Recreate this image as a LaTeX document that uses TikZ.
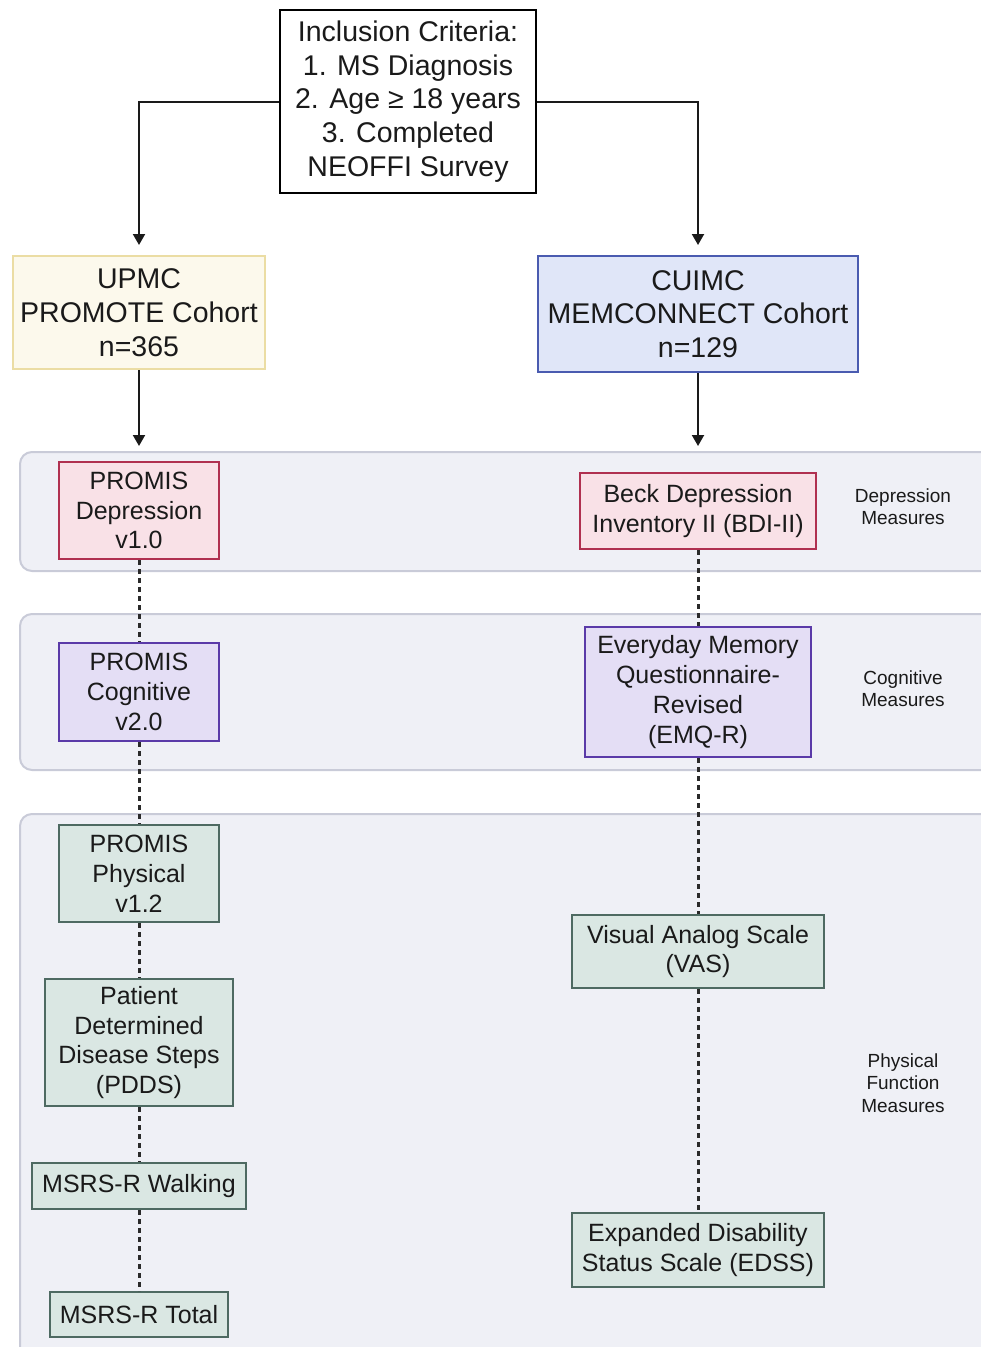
\documentclass[tikz,border=0pt]{standalone}
\usepackage{fontspec}
\setmainfont{Liberation Sans}
\usetikzlibrary{arrows.meta,positioning}
\definecolor{txt}{HTML}{1A1A1A}
\definecolor{creamfill}{HTML}{FCF9EC}
\definecolor{creamdraw}{HTML}{EBDDA4}
\definecolor{bluefill}{HTML}{E0E6F8}
\definecolor{bluedraw}{HTML}{4A5BB0}
\definecolor{panelfill}{HTML}{EFF0F6}
\definecolor{paneldraw}{HTML}{C9CBD8}
\definecolor{pinkfill}{HTML}{F9E1E7}
\definecolor{pinkdraw}{HTML}{B03050}
\definecolor{lavfill}{HTML}{E4DEF5}
\definecolor{lavdraw}{HTML}{5A3AA8}
\definecolor{greenfill}{HTML}{DAE7E3}
\definecolor{greendraw}{HTML}{4E6A62}
\definecolor{dotcol}{HTML}{2A2A2A}
\tikzset{
  bigbox/.style={draw, line width=2pt, inner sep=0pt, align=center, text=txt,
     font=\fontsize{28.5}{33.7}\selectfont},
  measbox/.style={draw, line width=2pt, inner sep=0pt, align=center, text=txt,
     font=\fontsize{25}{29.8}\selectfont},
  sidelabel/.style={align=center, text=txt, inner sep=0pt,
     font=\fontsize{19}{22.3}\selectfont},
  panel/.style={fill=panelfill, draw=paneldraw, line width=2pt, rounded corners=12pt},
  flow/.style={line width=2pt, draw=txt, -{Triangle[width=12pt,length=11pt]}},
  dotlink/.style={line width=3pt, draw=dotcol, dash pattern=on 5pt off 4pt},
  pink/.style={measbox, fill=pinkfill, draw=pinkdraw},
  lav/.style={measbox, fill=lavfill, draw=lavdraw},
  grn/.style={measbox, fill=greenfill, draw=greendraw},
}
\begin{document}
\begin{tikzpicture}[x=1pt,y=-1pt]
\useasboundingbox (0,0) rectangle (981,1347);
\fill[white] (0,0) rectangle (981,1347);
% panels
\begin{scope}
\clip (0,0) rectangle (981,1347);
\path[panel] (20,452) rectangle (1010,571);
\path[panel] (20,614) rectangle (1010,770);
\path[panel] (20,814) rectangle (1010,1380);
\end{scope}

% top
\node[bigbox, draw=black, line width=2.5pt, minimum width=256pt, minimum height=183pt, fill=white] (crit) at (408,101.5)
  {Inclusion Criteria:\\1. MS Diagnosis\\2. Age ≥ 18 years\\3. Completed\\NEOFFI Survey};

\node[bigbox, fill=creamfill, draw=creamdraw, minimum width=252pt, minimum height=113pt] (upmc) at (139,312.5)
  {UPMC\\PROMOTE Cohort\\n=365};
\node[bigbox, fill=bluefill, draw=bluedraw, minimum width=320pt, minimum height=116pt] (cuimc) at (698,314)
  {CUIMC\\MEMCONNECT Cohort\\n=129};

\draw[flow, shorten >=10pt] (crit.west) -| (upmc.north);
\draw[flow, shorten >=10pt] (crit.east) -| (cuimc.north);

\coordinate (la) at (139,446);
\coordinate (ra) at (698,446);
\draw[flow] (upmc.south) -- (la);
\draw[flow] (cuimc.south) -- (ra);

% left column
\node[pink, minimum width=160pt, minimum height=97pt] (pdep) at (139,510.5) {PROMIS\\Depression\\v1.0};
\node[lav, minimum width=160pt, minimum height=98pt] (pcog) at (139,692) {PROMIS\\Cognitive\\v2.0};
\node[grn, minimum width=160pt, minimum height=97pt] (pphy) at (139,873.5) {PROMIS\\Physical\\v1.2};
\node[grn, minimum width=188pt, minimum height=127pt] (pdds) at (139,1042.5) {Patient\\Determined\\Disease Steps\\(PDDS)};
\node[grn, minimum width=214pt, minimum height=46pt] (walk) at (139,1186) {MSRS-R Walking};
\node[grn, minimum width=178pt, minimum height=45pt] (tot) at (139,1314.5) {MSRS-R Total};

% right column
\node[pink, minimum width=236pt, minimum height=76pt] (bdi) at (698,511) {Beck Depression\\Inventory II (BDI-II)};
\node[lav, minimum width=226pt, minimum height=130pt] (emq) at (698,692) {Everyday Memory\\Questionnaire-\\Revised\\(EMQ-R)};
\node[grn, minimum width=252pt, minimum height=73pt] (vas) at (698,951.5) {Visual Analog Scale\\(VAS)};
\node[grn, minimum width=252pt, minimum height=74pt] (edss) at (698,1250) {Expanded Disability\\Status Scale (EDSS)};

% side labels
\node[sidelabel] (ldep) at (903,507) {Depression\\Measures};
\node[sidelabel] (lcog) at (903,689) {Cognitive\\Measures};
\node[sidelabel] (lphy) at (903,1083) {Physical\\Function\\Measures};

% dotted links
\draw[dotlink] (pdep.south) -- (pcog.north);
\draw[dotlink] (pcog.south) -- (pphy.north);
\draw[dotlink] (pphy.south) -- (pdds.north);
\draw[dotlink] (pdds.south) -- (walk.north);
\draw[dotlink] (walk.south) -- (tot.north);
\draw[dotlink] (bdi.south) -- (emq.north);
\draw[dotlink] (emq.south) -- (vas.north);
\draw[dotlink] (vas.south) -- (edss.north);
\end{tikzpicture}
\end{document}
